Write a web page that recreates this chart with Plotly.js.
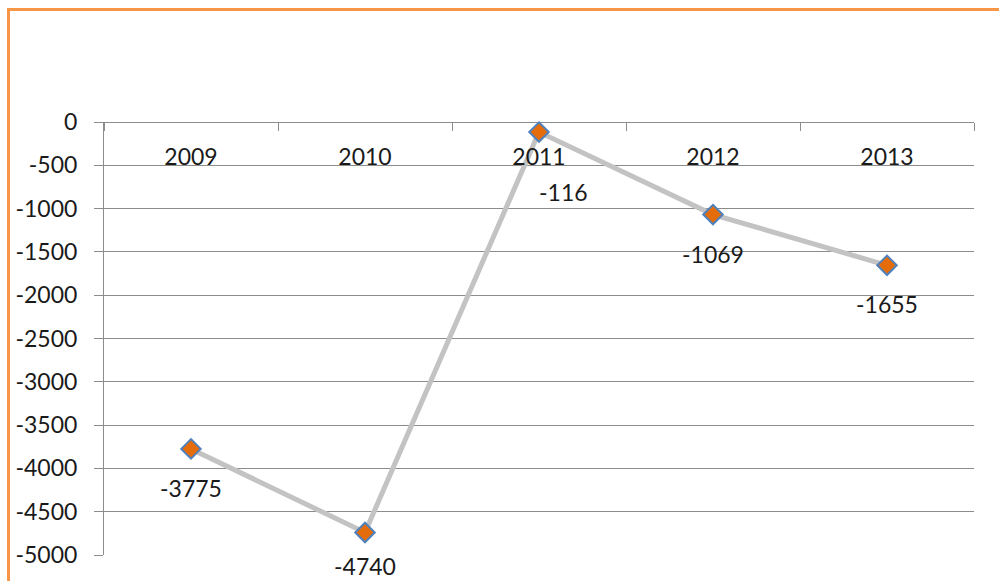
<!DOCTYPE html>
<html>
<head>
<meta charset="utf-8">
<script src="https://cdn.plot.ly/plotly-3.0.1.min.js"></script>
<style>
  html, body { margin: 0; padding: 0; background: #fff; }
  #wrap { position: relative; width: 999px; height: 581px; overflow: hidden; }
  #chart { position: absolute; left: 0; top: 0; width: 999px; height: 581px; }
  #frame { position: absolute; left: 7px; top: 8px; width: 1100px; height: 700px;
           border-top: 3px solid #F79646; border-left: 3px solid #F79646; pointer-events: none; }
</style>
</head>
<body>
<div id="wrap">
  <div id="chart"></div>
  <div id="frame"></div>
</div>
<script>
const years = ['2009', '2010', '2011', '2012', '2013'];
const values = [-3775, -4740, -116, -1069, -1655];
const yTickVals = [0, -500, -1000, -1500, -2000, -2500, -3000, -3500, -4000, -4500, -5000];

const FONT = 'Lato, "Open Sans", sans-serif';
const GRID = '#8C8C8C';

const trace = {
  type: 'scatter',
  mode: 'lines+markers',
  x: years,
  y: values,
  line: { color: '#C3C3C3', width: 5 },
  marker: { symbol: 'diamond', size: 15, color: '#E46C0A', line: { color: '#4F81BD', width: 2 } },
  hoverinfo: 'skip',
  cliponaxis: false
};

// label placement overrides (style only)
const labelShift = { '2010': { x: 0, y: -34 }, '2011': { x: 24, y: -60 } };
const annotations = years.map((yr, i) => {
  const s = labelShift[yr] || { x: 0, y: -39 };
  return {
    x: i, y: values[i], xref: 'x', yref: 'y',
    text: String(values[i]), showarrow: false,
    xshift: s.x, yshift: s.y,
    font: { family: FONT, size: 23, color: '#1a1a1a' }
  };
});

const layout = {
  width: 999, height: 581,
  margin: { l: 104, r: 25, t: 122, b: 26 },
  paper_bgcolor: '#fff', plot_bgcolor: '#fff',
  showlegend: false,
  font: { family: FONT, size: 23, color: '#1a1a1a' },
  xaxis: {
    type: 'category',
    range: [-0.5, 4.5],
    side: 'bottom', anchor: 'free', position: 1,
    showline: false, showgrid: false, zeroline: false,
    ticks: 'outside', tickson: 'boundaries', ticklen: 8, tickwidth: 1, tickcolor: GRID,
    ticklabelstandoff: 19,
    tickfont: { family: FONT, size: 23, color: '#1a1a1a' }
  },
  yaxis: {
    range: [-5000, 0],
    tickvals: yTickVals,
    ticktext: yTickVals.map(String),
    showgrid: true, gridcolor: GRID, gridwidth: 1,
    zeroline: true, zerolinecolor: GRID, zerolinewidth: 1,
    showline: true, linecolor: GRID, linewidth: 1,
    ticks: 'outside', ticklen: 9, tickcolor: GRID,
    ticklabelstandoff: 12,
    tickfont: { family: FONT, size: 23, color: '#1a1a1a' }
  },
  annotations: annotations
};

Plotly.newPlot('chart', [trace], layout, { staticPlot: true, displayModeBar: false });
</script>
</body>
</html>
